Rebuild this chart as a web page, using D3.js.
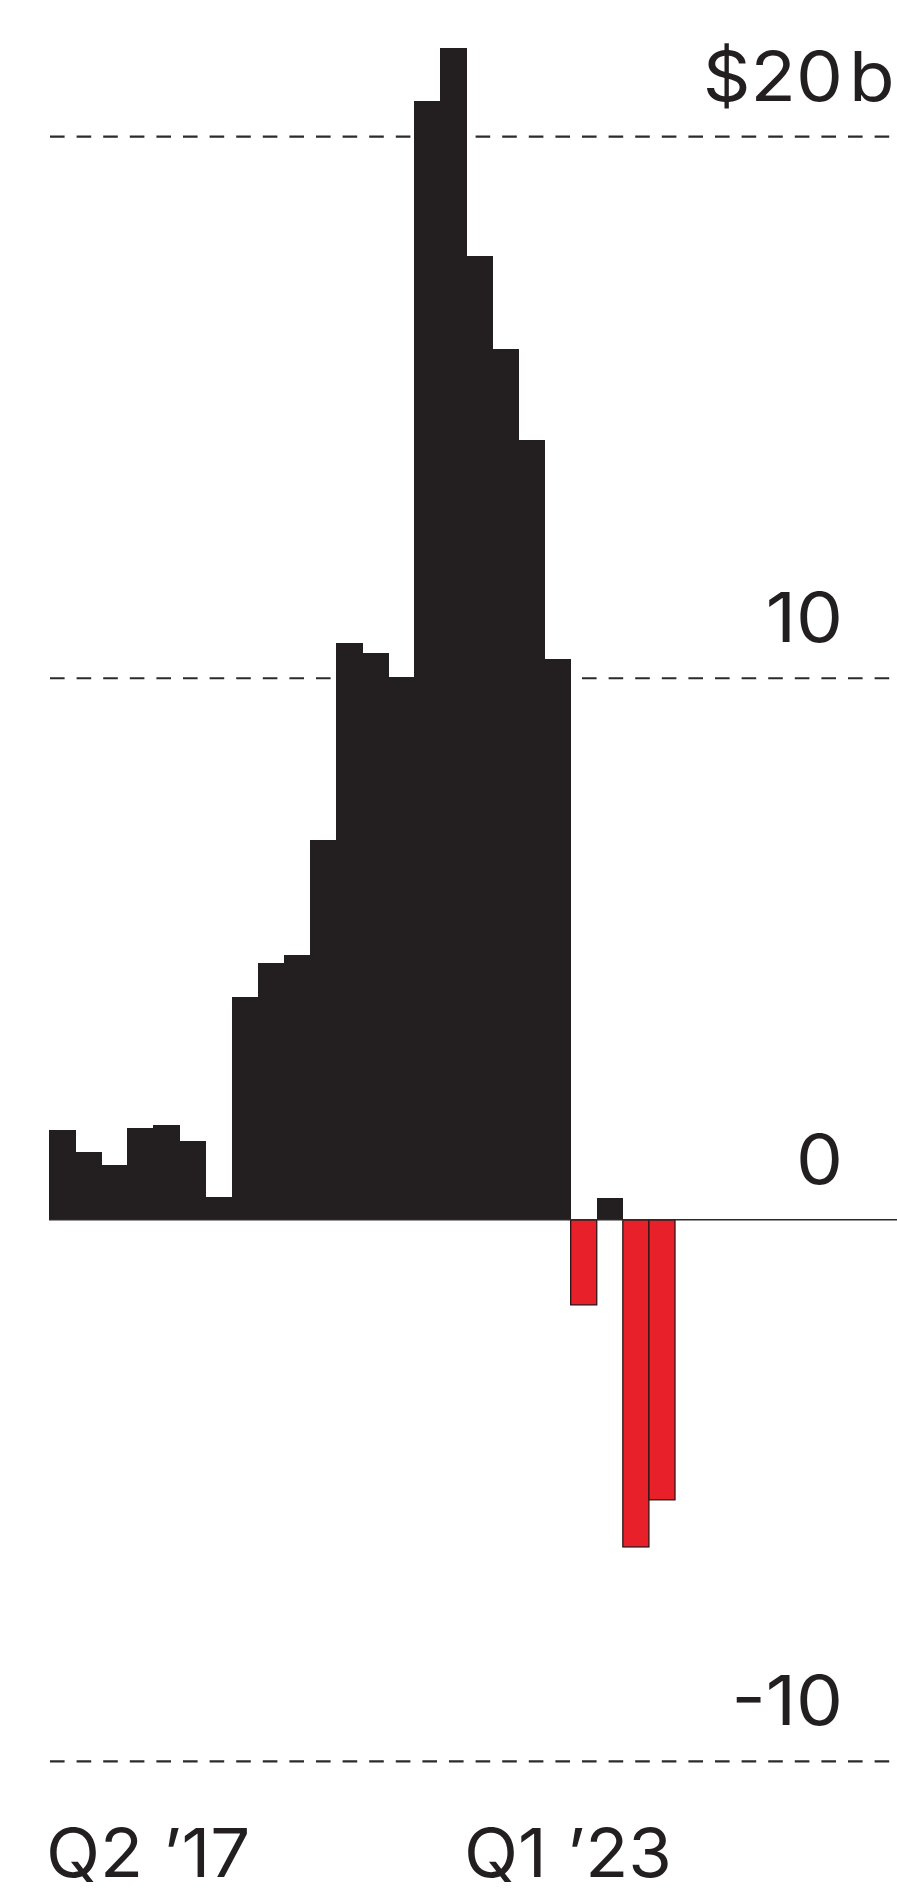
<!DOCTYPE html>
<html>
<head>
<meta charset="utf-8">
<script src="https://cdn.jsdelivr.net/npm/d3@7"></script>
<style>
  html, body { margin: 0; padding: 0; background: #ffffff; }
  svg { display: block; }
  text { font-family: Inter, "Liberation Sans", Arial, sans-serif; fill: #231f20; }
</style>
</head>
<body>
<div id="chart"></div>
<script>
// Quarterly values, $ billions, Q2 '17 through Q1 '23
const quarters = [
  "Q2 '17", "Q3 '17", "Q4 '17",
  "Q1 '18", "Q2 '18", "Q3 '18", "Q4 '18",
  "Q1 '19", "Q2 '19", "Q3 '19", "Q4 '19",
  "Q1 '20", "Q2 '20", "Q3 '20", "Q4 '20",
  "Q1 '21", "Q2 '21", "Q3 '21", "Q4 '21",
  "Q1 '22", "Q2 '22", "Q3 '22", "Q4 '22",
  "Q1 '23"
];
const values = [
  1.65, 1.25, 1.02,
  1.69, 1.75, 1.46, 0.43,
  4.12, 4.75, 4.89, 7.02,
  10.66, 10.46, 10.02, 20.66,
  21.63, 17.80, 16.08, 14.40,
  10.36, -1.57, 0.41, -6.04,
  -5.17
];
const yTicks = [20, 10, 0, -10];
const yTickLabels = ["$20b", "10", "0", "-10"];
const xTickLabels = [
  { quarter: "Q2 '17", text: "Q2 \u201917", anchor: "start" },
  { quarter: "Q1 '23", text: "Q1 \u201923", anchor: "end" }
];

const W = 897, H = 1895;
const svg = d3.select("#chart").append("svg")
  .attr("width", W).attr("height", H);

const x = d3.scaleBand().domain(quarters).range([49, 675]).padding(0);
const y = d3.scaleLinear().domain([-10, 20]).range([1761.4, 136.7]);

const ink = "#231f20";
const labelRight = 843;

// dashed gridlines (zero gets a solid baseline instead)
svg.append("g").selectAll("line")
  .data(yTicks.filter(d => d !== 0))
  .join("line")
  .attr("x1", 50).attr("x2", W)
  .attr("y1", d => y(d)).attr("y2", d => y(d))
  .attr("stroke", "#2b2b2b")
  .attr("stroke-width", 2.2)
  .attr("stroke-dasharray", "14.6 12");

// bars: positive black, negative red with a dark outline
const bars = values.map((v, i) => ({ q: quarters[i], v }));
svg.append("g")
  .attr("shape-rendering", "crispEdges")
  .selectAll("rect")
  .data(bars.filter(d => d.v >= 0))
  .join("rect")
  .attr("x", d => x(d.q))
  .attr("width", x.bandwidth() + 0.6)
  .attr("y", d => y(d.v))
  .attr("height", d => y(0) - y(d.v))
  .attr("fill", ink);

svg.append("g").selectAll("rect")
  .data(bars.filter(d => d.v < 0))
  .join("rect")
  .attr("x", d => x(d.q))
  .attr("width", x.bandwidth())
  .attr("y", y(0))
  .attr("height", d => y(d.v) - y(0))
  .attr("fill", "#e8202a")
  .attr("stroke", "#2e1517")
  .attr("stroke-width", 1.3);

// zero baseline
svg.append("line")
  .attr("x1", 49).attr("x2", W)
  .attr("y1", y(0)).attr("y2", y(0))
  .attr("stroke", "#2b2b2b")
  .attr("stroke-width", 1.5);

// y labels: numbers right-aligned, unit suffix hangs to the right
const yLab = svg.append("g");
yTicks.forEach((t, i) => {
  const m = yTickLabels[i].match(/^(.*?\d)(\D*)$/);
  const main = m ? m[1] : yTickLabels[i];
  const suffix = m ? m[2] : "";
  const base = y(t) - 36;
  yLab.append("text")
    .attr("transform", `translate(${labelRight},${base}) scale(1.08,1)`)
    .attr("text-anchor", "end")
    .attr("font-size", 69)
    .text(main);
  if (suffix) {
    yLab.append("text")
      .attr("transform", `translate(${labelRight + 6},${base}) scale(1.08,1)`)
      .attr("text-anchor", "start")
      .attr("font-size", 69)
      .text(suffix);
  }
});

// x labels at the first and last quarter
svg.append("g").selectAll("text")
  .data(xTickLabels)
  .join("text")
  .attr("transform", d => {
    const tx = d.anchor === "start" ? x(d.quarter) - 3 : x(d.quarter) + x.bandwidth() - 3;
    return `translate(${tx},1877) scale(1.04,1)`;
  })
  .attr("text-anchor", d => d.anchor)
  .attr("font-size", 68)
  .text(d => d.text);
</script>
</body>
</html>
